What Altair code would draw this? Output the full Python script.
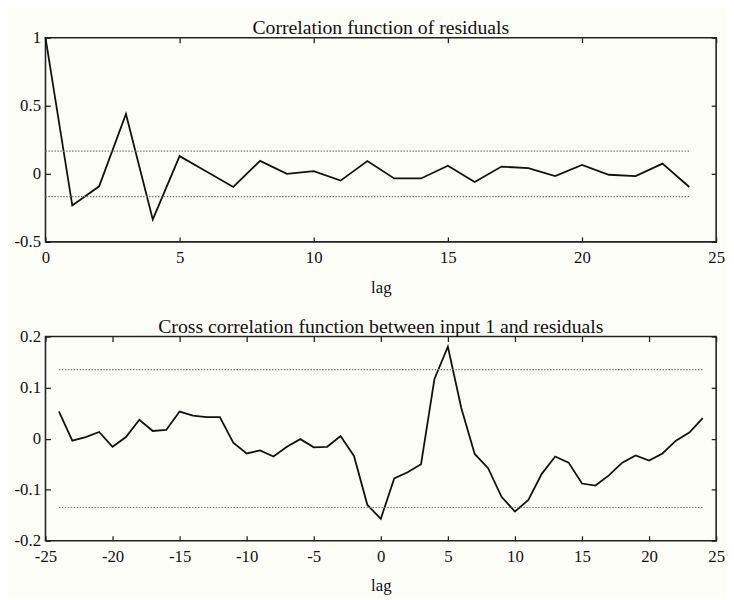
import altair as alt
import pandas as pd

# ---- data ----
acf_lags = list(range(0, 25))
acf_vals = [1.0, -0.233, -0.092, 0.44, -0.335, 0.13, 0.017, -0.097, 0.095, 0.0,
            0.02, -0.05, 0.094, -0.034, -0.034, 0.06, -0.06, 0.053, 0.041, -0.017,
            0.065, -0.007, -0.017, 0.075, -0.097]
acf_conf = 0.167
acf_band_range = [0, 24]

ccf_lags = list(range(-24, 25))
ccf_vals = [0.0535, -0.004, 0.003, 0.013, -0.016, 0.003, 0.037, 0.015, 0.017, 0.053,
            0.045, 0.042, 0.042, -0.008, -0.029, -0.023, -0.035, -0.016, -0.001, -0.017,
            -0.016, 0.005, -0.034, -0.130,
            -0.157, -0.078, -0.066, -0.050, 0.117, 0.180, 0.06, -0.030, -0.058, -0.114,
            -0.143, -0.120, -0.069, -0.035, -0.047, -0.088, -0.092, -0.072, -0.047, -0.033,
            -0.043, -0.029, -0.004, 0.012, 0.040]
ccf_conf = 0.135
ccf_band_range = [-24, 24]

acf_xticks = [0, 5, 10, 15, 20, 25]
acf_yticks = [-0.5, 0, 0.5, 1]
ccf_xticks = [-25, -20, -15, -10, -5, 0, 5, 10, 15, 20, 25]
ccf_yticks = [-0.2, -0.1, 0, 0.1, 0.2]

title_top = "Correlation function of residuals"
title_bottom = "Cross correlation function between input 1 and residuals"
x_title = "lag"

W, H = 680, 207
FONT = "Liberation Serif"


def panel(lags, vals, conf, brange, xdom, ydom, xticks, yticks, title):
    df = pd.DataFrame({"lag": lags, "value": vals})
    bands = pd.DataFrame({"x0": [brange[0], brange[0]], "x1": [brange[1], brange[1]],
                          "y": [conf, -conf]})
    xs = alt.Scale(domain=xdom, nice=False, zero=False)
    ys = alt.Scale(domain=ydom, nice=False, zero=False)

    lab_x = alt.Axis(values=xticks, ticks=False, tickSize=0, domain=False, grid=False,
                     labelExpr="'' + datum.value", title=x_title, labelPadding=8,
                     titlePadding=14, labelFlush=False)
    lab_y = alt.Axis(values=yticks, ticks=False, tickSize=0, domain=False, grid=False,
                     labelExpr="'' + datum.value", title=None, labelPadding=5,
                     labelFlush=False)

    line = alt.Chart(df).mark_line(color="#111", strokeWidth=1.8).encode(
        x=alt.X("lag:Q", scale=xs, axis=lab_x),
        y=alt.Y("value:Q", scale=ys, axis=lab_y),
    )
    band = alt.Chart(bands).mark_rule(color="#777", strokeDash=[1.5, 1.5], strokeWidth=1.2).encode(
        x=alt.X("x0:Q", scale=xs, axis=None),
        x2="x1:Q",
        y=alt.Y("y:Q", scale=ys, axis=None),
    )

    def tick_axis(orient, offset, vals_):
        return alt.Axis(orient=orient, offset=offset, values=vals_, labels=False,
                        domain=False, grid=False, ticks=True, tickSize=5, title=None)

    # inward ticks on the bottom edge and left edge
    t1 = alt.Chart(df).mark_line(opacity=0).encode(
        x=alt.X("lag:Q", scale=xs, axis=tick_axis("top", -H, xticks)),
        y=alt.Y("value:Q", scale=ys, axis=tick_axis("right", -W, yticks)),
    )
    # inward ticks on the top edge and right edge
    t2 = alt.Chart(df).mark_line(opacity=0).encode(
        x=alt.X("lag:Q", scale=xs, axis=tick_axis("bottom", -H, xticks)),
        y=alt.Y("value:Q", scale=ys, axis=tick_axis("left", -W, yticks)),
    )
    return alt.layer(line, band, t1, t2).resolve_axis(
        x="independent", y="independent"
    ).properties(
        width=W, height=H,
        title=alt.TitleParams(title, font=FONT, fontSize=20, fontWeight="normal",
                              color="#111", offset=-9, anchor="middle"),
    )


top = panel(acf_lags, acf_vals, acf_conf, acf_band_range, [0, 25], [-0.5, 1],
            acf_xticks, acf_yticks, title_top)
bottom = panel(ccf_lags, ccf_vals, ccf_conf, ccf_band_range, [-25, 25], [-0.2, 0.2],
               ccf_xticks, ccf_yticks, title_bottom)

chart = alt.vconcat(top, bottom, spacing=96, bounds="flush").properties(
    padding={"left": 5, "top": 5, "right": 0, "bottom": 0},
    background="#fefef9",
).configure_view(
    stroke="#222", strokeWidth=1.6
).configure_axis(
    labelFont=FONT, labelFontSize=17, labelColor="#111",
    titleFont=FONT, titleFontSize=17, titleFontWeight="normal", titleColor="#111",
    tickColor="#222", tickWidth=1.3,
)

chart.save("out.html", embed_options={"renderer": "svg", "actions": False})
